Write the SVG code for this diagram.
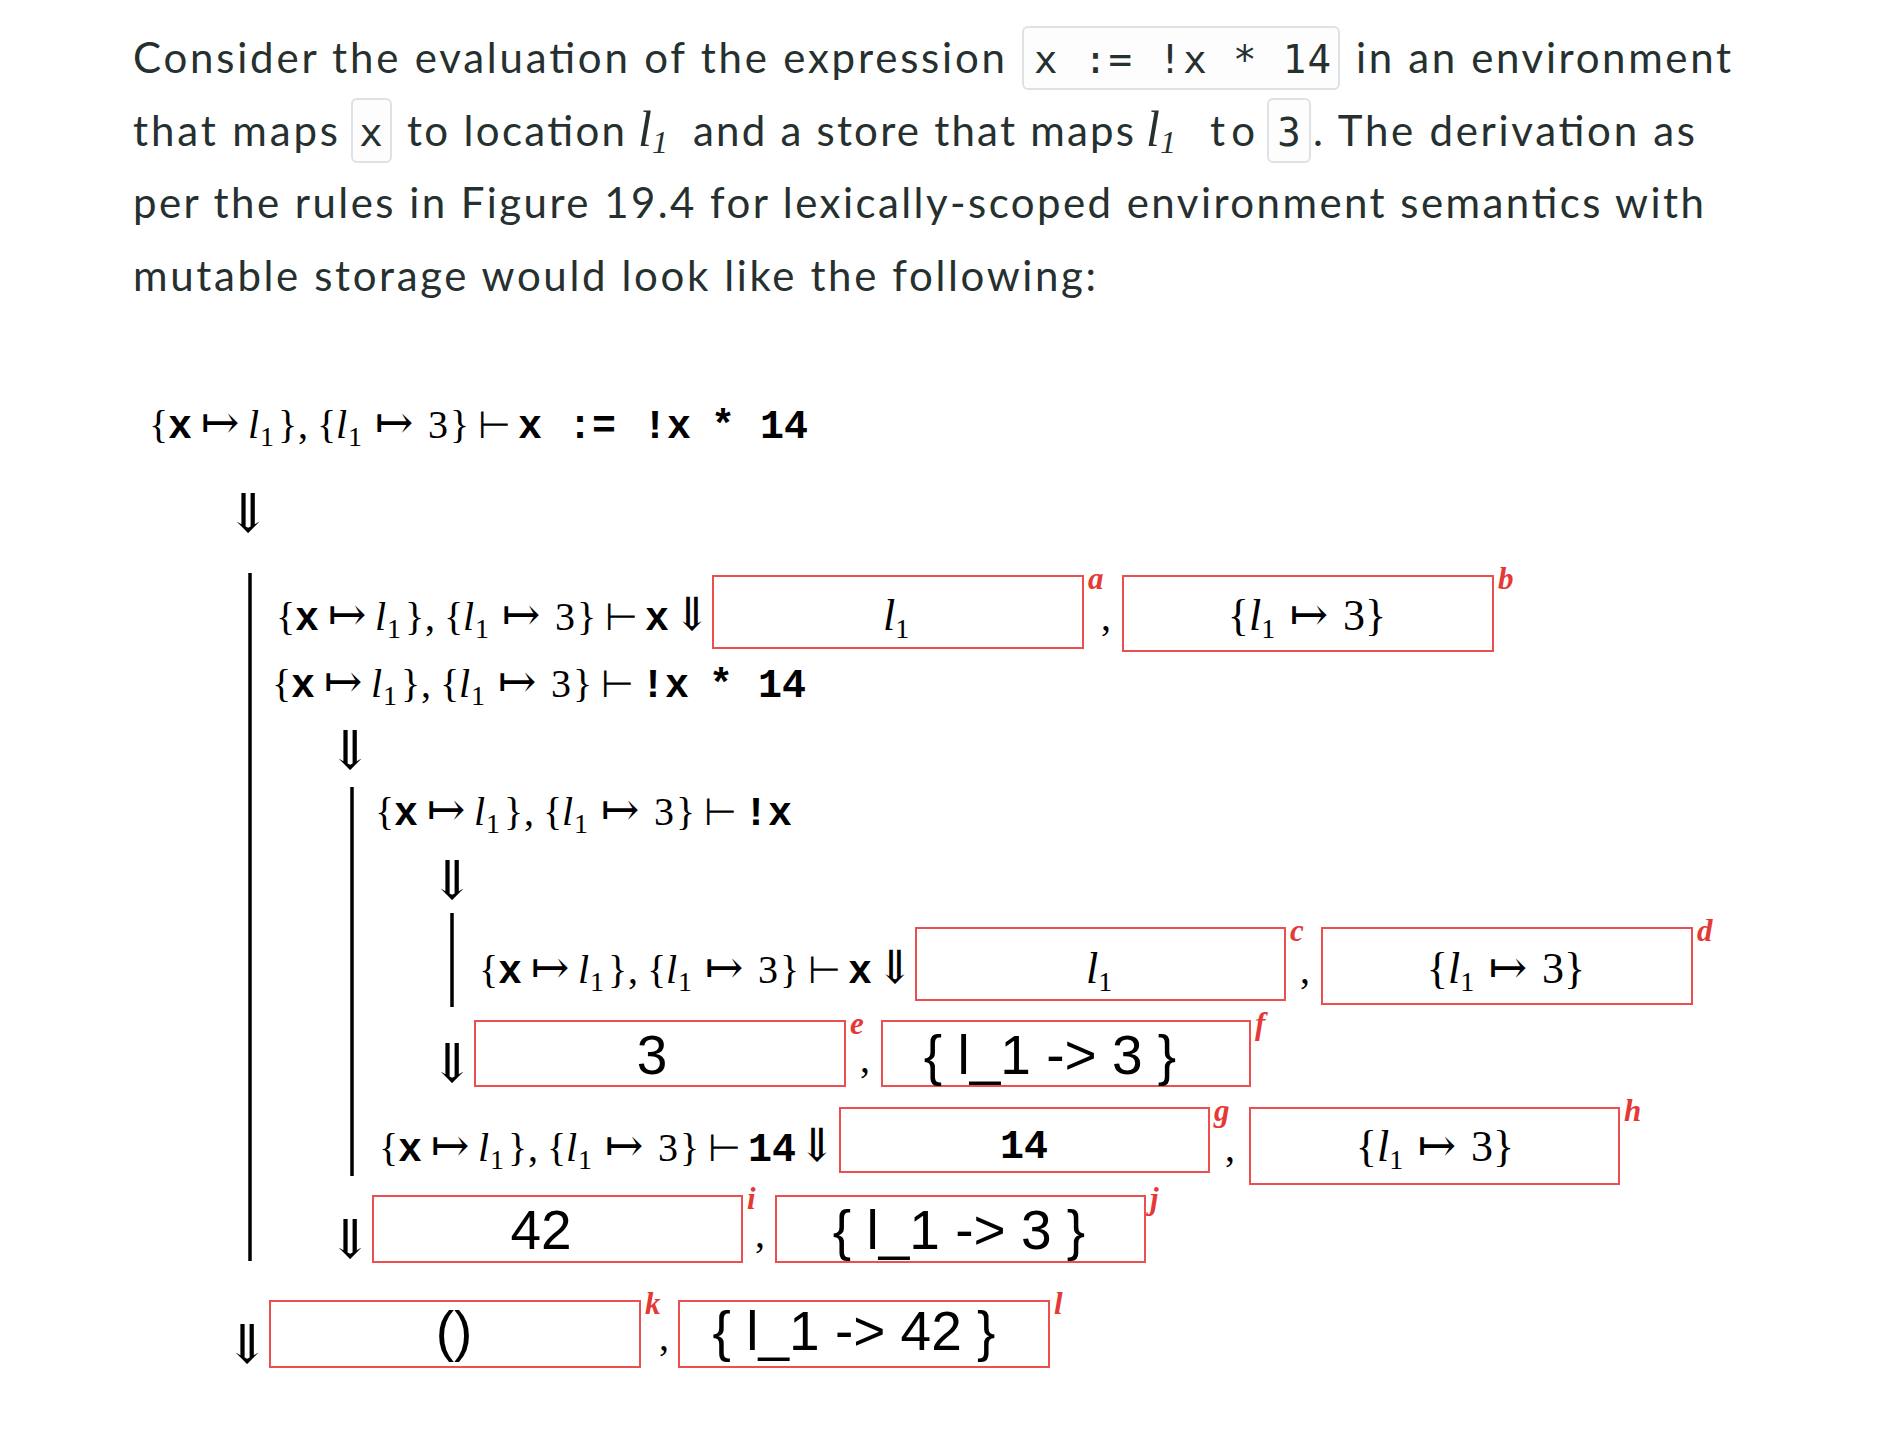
<svg xmlns="http://www.w3.org/2000/svg" xmlns:xlink="http://www.w3.org/1999/xlink" width="1892" height="1455" viewBox="0 0 1892 1455">
<style>
.p{font-family:Lato,"Open Sans",sans-serif;font-size:42px;fill:#26302f}
.code{font-family:"DejaVu Sans Mono","Liberation Mono",monospace;font-size:39px;fill:#26302f}
.cb{fill:#fdfdfd;stroke:#dde2e6;stroke-width:2}
.mi{font-family:"Liberation Serif","DejaVu Serif",serif;font-style:italic;font-size:50px;fill:#26302f}
.ms{font-family:"Liberation Serif","DejaVu Serif",serif;font-size:32px;fill:#26302f}
.m{font-family:"Liberation Serif","DejaVu Serif","DejaVu Sans",serif;font-size:40px;fill:#000}
.tt{font-family:"Liberation Mono","DejaVu Sans Mono",monospace;font-weight:bold}
.it{font-style:italic}
.sub{font-size:28px}
.ar{font-family:"DejaVu Serif","DejaVu Sans",serif;font-size:46px}
.tk{font-family:"DejaVu Sans",serif;font-size:38px}
.sm{font-size:44px}
.arr{font-family:"DejaVu Serif","DejaVu Sans",serif;font-size:54px;fill:#000;text-anchor:middle}
.box{fill:none;stroke:#ec4f4f;stroke-width:2}
.lbl{font-family:"Liberation Serif",serif;font-style:italic;font-weight:bold;font-size:31px;fill:#e53935}
.v{font-family:"Liberation Sans",Arial,sans-serif;font-size:55px;fill:#000;text-anchor:middle}
.bar{stroke:#000;stroke-width:3.5}
</style>
<defs>
<text id="ctx" class="m" x="0" y="0"><tspan x="0">{</tspan><tspan x="19" class="tt">x</tspan><tspan x="52" class="ar">↦</tspan><tspan x="99" class="it">l</tspan><tspan x="111" dy="8" class="sub">1</tspan><tspan x="129" dy="-8">}</tspan><tspan x="149">,</tspan><tspan x="168">{</tspan><tspan x="187" class="it">l</tspan><tspan x="199" dy="8" class="sub">1</tspan><tspan x="226" dy="-8" class="ar">↦</tspan><tspan x="279">3</tspan><tspan x="301">}</tspan><tspan x="329" class="tk">⊢</tspan></text>
<text id="sto" class="m sm" x="0" y="0" text-anchor="middle">{<tspan class="it">l</tspan><tspan dy="8" class="sub">1</tspan><tspan dy="-8" class="ar"> ↦ </tspan>3}</text>
<text id="loc" class="m sm" x="0" y="0" text-anchor="middle"><tspan class="it">l</tspan><tspan dy="8" class="sub">1</tspan></text>
</defs>

<g id="intro">
<text class="p" x="133" y="73" textLength="872" lengthAdjust="spacing">Consider the evaluation of the expression</text>
<rect class="cb" x="1023" y="27" width="316" height="62" rx="5"/>
<text class="code" x="1034" y="73" textLength="297" lengthAdjust="spacing">x := !x * 14</text>
<text class="p" x="1356" y="73" textLength="375" lengthAdjust="spacing">in an environment</text>

<text class="p" x="133" y="146" textLength="205" lengthAdjust="spacing">that maps</text>
<rect class="cb" x="352" y="99" width="39" height="63" rx="5"/>
<text class="code" x="371" y="146" text-anchor="middle">x</text>
<text class="p" x="407" y="146" textLength="218" lengthAdjust="spacing">to location</text>
<text class="mi" x="638" y="146">l<tspan class="ms" dy="7">1</tspan></text>
<text class="p" x="693" y="146" textLength="441" lengthAdjust="spacing">and a store that maps</text>
<text class="mi" x="1146" y="146">l<tspan class="ms" dy="7">1</tspan></text>
<text class="p" x="1210" y="146" textLength="45" lengthAdjust="spacing">to</text>
<rect class="cb" x="1268" y="99" width="42" height="63" rx="5"/>
<text class="code" x="1289" y="146" text-anchor="middle">3</text>
<text class="p" x="1313" y="146" textLength="382" lengthAdjust="spacing">. The derivation as</text>

<text class="p" x="133" y="218" textLength="1571" lengthAdjust="spacing">per the rules in Figure 19.4 for lexically-scoped environment semantics with</text>
<text class="p" x="133" y="291" textLength="963" lengthAdjust="spacing">mutable storage would look like the following:</text>
</g>

<g id="connectors">
<line class="bar" x1="250" y1="573" x2="250" y2="1261"/>
<line class="bar" x1="352" y1="787" x2="352" y2="1176"/>
<line class="bar" x1="452" y1="913" x2="452" y2="1007"/>
<text class="arr" x="248" y="532">⇓</text>
<text class="arr" x="350" y="769">⇓</text>
<text class="arr" x="452" y="899">⇓</text>
<text class="arr" x="452" y="1082">⇓</text>
<text class="arr" x="350" y="1258">⇓</text>
<text class="arr" x="247" y="1363">⇓</text>
</g>

<g id="row1">
<use xlink:href="#ctx" x="149" y="438"/>
<text class="m tt" y="438"><tspan x="518">x</tspan><tspan x="568">:=</tspan><tspan x="643">!x</tspan><tspan x="711">*</tspan><tspan x="760">14</tspan></text>
</g>

<g id="row3">
<use xlink:href="#ctx" x="276" y="630"/>
<text class="m tt" x="645" y="630">x</text>
<text class="m ar" x="692" y="630" text-anchor="middle">⇓</text>
</g>
<g id="box-a"><rect class="box" x="713" y="576" width="370" height="72"/><use xlink:href="#loc" x="896" y="630"/><text class="lbl" x="1088" y="589">a</text></g>
<text class="m" x="1101" y="630">,</text>
<g id="box-b"><rect class="box" x="1123" y="576" width="370" height="75"/><use xlink:href="#sto" x="1307" y="630"/><text class="lbl" x="1498" y="589">b</text></g>

<g id="row4">
<use xlink:href="#ctx" x="272" y="697"/>
<text class="m tt" y="697"><tspan x="641">!x</tspan><tspan x="709">*</tspan><tspan x="758">14</tspan></text>
</g>

<g id="row6">
<use xlink:href="#ctx" x="375" y="825"/>
<text class="m tt" x="744" y="825">!x</text>
</g>

<g id="row8">
<use xlink:href="#ctx" x="479" y="983"/>
<text class="m tt" x="848" y="983">x</text>
<text class="m ar" x="895" y="983" text-anchor="middle">⇓</text>
</g>
<g id="box-c"><rect class="box" x="916" y="928" width="369" height="72"/><use xlink:href="#loc" x="1099" y="983"/><text class="lbl" x="1290" y="941">c</text></g>
<text class="m" x="1300" y="983">,</text>
<g id="box-d"><rect class="box" x="1322" y="928" width="370" height="76"/><use xlink:href="#sto" x="1506" y="983"/><text class="lbl" x="1697" y="941">d</text></g>

<g id="box-e"><rect class="box" x="475" y="1021" width="370" height="65"/><text class="v" x="652" y="1074">3</text><text class="lbl" x="850" y="1034">e</text></g>
<text class="m" x="860" y="1072">,</text>
<g id="box-f"><rect class="box" x="882" y="1021" width="368" height="65"/><text class="v" x="1050" y="1074">{ l_1 -&gt; 3 }</text><text class="lbl" x="1255" y="1034">f</text></g>

<g id="row10">
<use xlink:href="#ctx" x="379" y="1161"/>
<text class="m tt" x="748" y="1161">14</text>
<text class="m ar" x="817" y="1161" text-anchor="middle">⇓</text>
</g>
<g id="box-g"><rect class="box" x="840" y="1108" width="369" height="64"/><text class="m tt" x="1024" y="1158" text-anchor="middle">14</text><text class="lbl" x="1214" y="1121">g</text></g>
<text class="m" x="1225" y="1161">,</text>
<g id="box-h"><rect class="box" x="1250" y="1108" width="369" height="76"/><use xlink:href="#sto" x="1435" y="1161"/><text class="lbl" x="1624" y="1121">h</text></g>

<g id="box-i"><rect class="box" x="373" y="1196" width="369" height="66"/><text class="v" x="541" y="1249">42</text><text class="lbl" x="747" y="1209">i</text></g>
<text class="m" x="755" y="1247">,</text>
<g id="box-j"><rect class="box" x="776" y="1196" width="369" height="66"/><text class="v" x="959" y="1249">{ l_1 -&gt; 3 }</text><text class="lbl" x="1150" y="1209">j</text></g>

<g id="box-k"><rect class="box" x="270" y="1301" width="370" height="66"/><text class="v" x="454" y="1350">()</text><text class="lbl" x="645" y="1314">k</text></g>
<text class="m" x="659" y="1350">,</text>
<g id="box-l"><rect class="box" x="679" y="1301" width="370" height="66"/><text class="v" x="854" y="1350">{ l_1 -&gt; 42 }</text><text class="lbl" x="1054" y="1314">l</text></g>
</svg>
